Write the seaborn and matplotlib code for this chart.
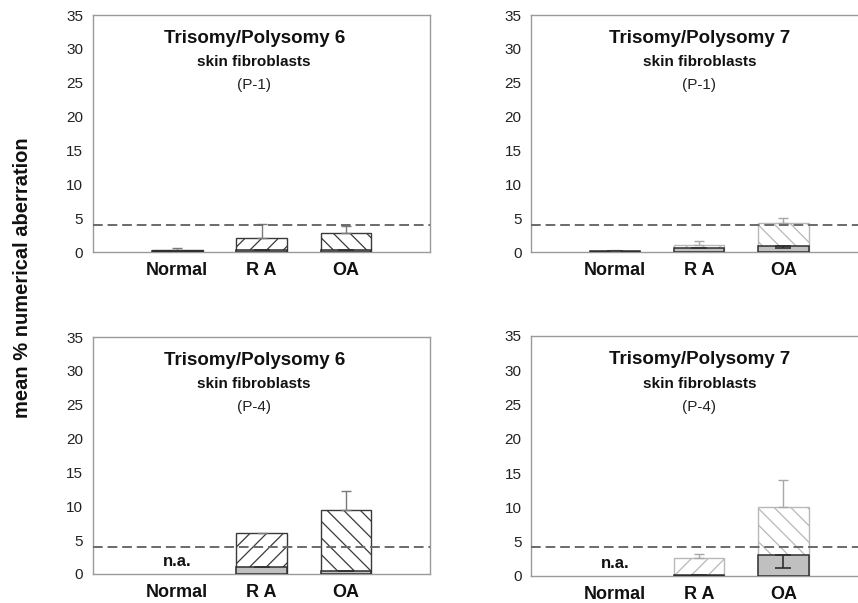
import numpy as np
import pandas as pd
import matplotlib
matplotlib.use("Agg")
import matplotlib.pyplot as plt
import seaborn as sns

# ---------------- data ----------------
categories = ["Normal", "RA", "OA"]
tick_labels = ["Normal", "R A", "OA"]
yticks = [0, 5, 10, 15, 20, 25, 30, 35]

# top-left: chromosome 6, P-1
c6p1_total = [0.3, 2.1, 2.8]
c6p1_poly = [0.15, 0.3, 0.25]
c6p1_err = [0.3, 2.0, 1.1]
c6p1_poly_err = [np.nan, np.nan, np.nan]

# top-right: chromosome 7, P-1
c7p1_total = [0.15, 1.0, 4.3]
c7p1_poly = [0.1, 0.6, 0.9]
c7p1_err = [0.1, 0.6, 0.7]
c7p1_poly_err = [np.nan, np.nan, 0.35]

# bottom-left: chromosome 6, P-4 (Normal n.a.)
c6p4_total = [np.nan, 6.1, 9.4]
c6p4_poly = [np.nan, 1.1, 0.5]
c6p4_err = [np.nan, np.nan, 2.9]
c6p4_poly_err = [np.nan, np.nan, np.nan]

# bottom-right: chromosome 7, P-4 (Normal n.a.)
c7p4_total = [np.nan, 2.6, 10.1]
c7p4_poly = [np.nan, 0.2, 3.0]
c7p4_err = [np.nan, 0.6, 3.9]
c7p4_poly_err = [np.nan, np.nan, 1.9]

thresholds = [4.0, 4.0, 4.0, 4.2]
titles = ["Trisomy/Polysomy 6", "Trisomy/Polysomy 7",
          "Trisomy/Polysomy 6", "Trisomy/Polysomy 7"]
subtitle = "skin fibroblasts"
patients = ["(P-1)", "(P-1)", "(P-4)", "(P-4)"]
na_flags = [False, False, True, True]
hatches = ["", "//", "\\\\"]

# ---------------- style ----------------
sns.set_style("white")
plt.rcParams["font.family"] = ["Liberation Sans", "DejaVu Sans"]
plt.rcParams["hatch.linewidth"] = 0.9

fig = plt.figure(figsize=(8.58, 6.03), dpi=100)
positions = [
    [0.1084, 0.582, 0.393, 0.393],
    [0.619, 0.582, 0.392, 0.393],
    [0.1084, 0.0481, 0.393, 0.393],
    [0.619, 0.0448, 0.392, 0.398],
]
panels = [
    (c6p1_total, c6p1_poly, c6p1_err, c6p1_poly_err),
    (c7p1_total, c7p1_poly, c7p1_err, c7p1_poly_err),
    (c6p4_total, c6p4_poly, c6p4_err, c6p4_poly_err),
    (c7p4_total, c7p4_poly, c7p4_err, c7p4_poly_err),
]
hatch_cols = ["#3a3a3a", "#b8b8b8", "#3a3a3a", "#b8b8b8"]
err_cols = ["#7a7a7a", "#a8a8a8", "#7a7a7a", "#a8a8a8"]
title_x = [0.478, 0.5, 0.478, 0.5]

for i, (pos, (tot, poly, err, perr)) in enumerate(zip(positions, panels)):
    ax = fig.add_axes(pos)
    df = pd.DataFrame({"cat": categories, "total": tot, "poly": poly})
    d_tot = df.dropna(subset=["total"])
    d_poly = df.dropna(subset=["poly"])

    sns.barplot(data=d_tot, x="cat", y="total", order=categories, ax=ax,
                color="white", saturation=1, width=0.6, errorbar=None,
                edgecolor=hatch_cols[i], linewidth=1.0, zorder=2)
    for p in ax.patches:
        idx = int(round(p.get_x() + p.get_width() / 2))
        p.set_hatch(hatches[idx])
        p.set_edgecolor(hatch_cols[i])

    sns.barplot(data=d_poly, x="cat", y="poly", order=categories, ax=ax,
                color="#c0c0c0", saturation=1, width=0.6, errorbar=None,
                edgecolor="#2e2e2e", linewidth=1.1, zorder=3)

    xi = np.arange(len(categories))
    tot_a = np.array(tot, dtype=float)
    err_a = np.array(err, dtype=float)
    ax.errorbar(xi, tot_a, yerr=[np.zeros_like(err_a), err_a], fmt="none",
                ecolor=err_cols[i], elinewidth=1.0, capsize=3.5, capthick=1.0,
                zorder=4)
    poly_a = np.array(poly, dtype=float)
    perr_a = np.array(perr, dtype=float)
    ax.errorbar(xi, poly_a, yerr=[perr_a, np.zeros_like(perr_a)], fmt="none",
                ecolor="#2e2e2e", elinewidth=1.2, capsize=6, capthick=1.2,
                zorder=5)

    ax.axhline(thresholds[i], color="#6a6a6a", lw=1.4,
               linestyle=(0, (5, 2.5)), zorder=6)

    if na_flags[i]:
        ax.text(0, 1.8, "n.a.", ha="center", va="center", fontsize=12,
                fontweight="bold", color="#111111")

    ax.set_xlim(-1, 3)
    ax.set_ylim(0, 35)
    ax.set_yticks(yticks)
    ax.set_yticklabels([str(t) for t in yticks])
    ax.set_xticks(xi)
    ax.set_xticklabels(tick_labels, fontweight="bold", fontsize=13)
    ax.set_xlabel("")
    ax.set_ylabel("")
    ax.tick_params(axis="y", length=4, width=0.8, color="#8a8a8a",
                   direction="out", labelsize=11, pad=3, labelcolor="#222222")
    ax.tick_params(axis="x", length=3, width=0.8, color="#8a8a8a",
                   direction="out", pad=4.5, labelcolor="#111111")
    for s in ["left", "bottom", "right", "top"]:
        ax.spines[s].set_visible(True)
        ax.spines[s].set_color("#9a9a9a")
        ax.spines[s].set_linewidth(1.0)

    ax.text(title_x[i], 0.903, titles[i], transform=ax.transAxes,
            ha="center", va="center", fontsize=13.5, fontweight="bold",
            color="#111111")
    ax.text(title_x[i], 0.80, subtitle, transform=ax.transAxes,
            ha="center", va="center", fontsize=11, fontweight="bold",
            color="#111111")
    ax.text(title_x[i], 0.705, patients[i], transform=ax.transAxes,
            ha="center", va="center", fontsize=11, color="#222222")

fig.text(0.026, 0.54, "mean % numerical aberration", rotation=90,
         ha="center", va="center", fontsize=14.5, fontweight="bold",
         color="#111111")

fig.savefig("out.png", dpi=100)
